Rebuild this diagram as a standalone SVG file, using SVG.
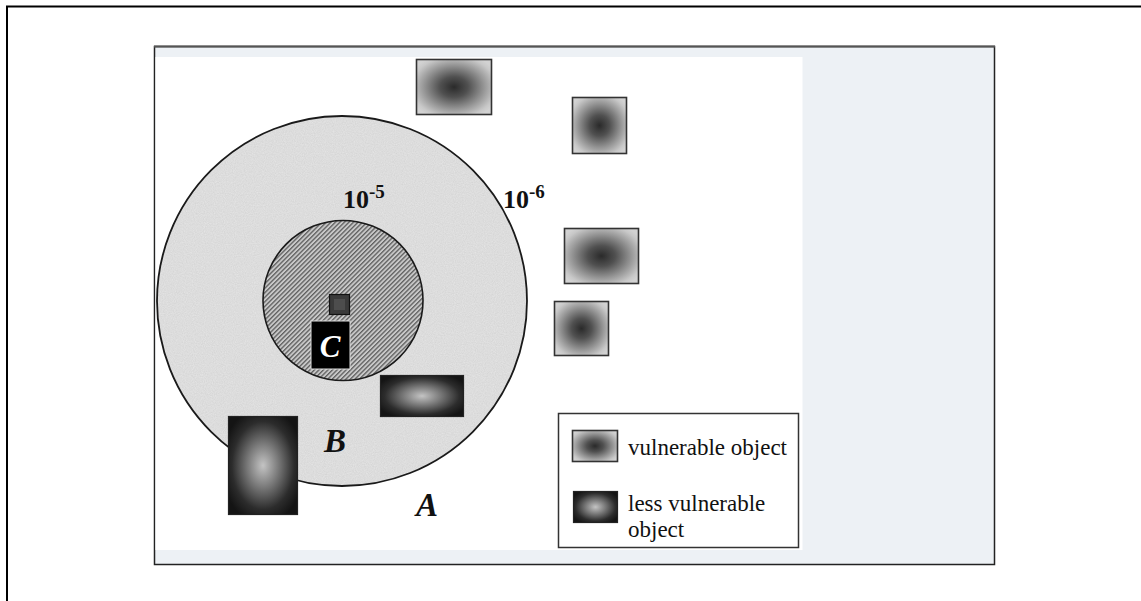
<svg xmlns="http://www.w3.org/2000/svg" width="1141" height="601" viewBox="0 0 1141 601">
  <style>
    .num { font-family: "Liberation Serif", "Times New Roman", serif; font-weight: bold; font-size: 26px; fill: #111; }
    .sup { font-size: 19px; }
    .zone { font-family: "Liberation Serif", "Times New Roman", serif; font-weight: bold; font-style: italic; font-size: 33px; fill: #111; }
    .leg { font-family: "Liberation Serif", "Times New Roman", serif; font-size: 23px; fill: #111; }
    .vuln { fill: url(#gVuln); stroke: #333; stroke-width: 1.6; }
    .less { fill: url(#gLess); stroke: #222; stroke-width: 1.2; }
  </style>
  <defs>
    <radialGradient id="gVuln" cx="0.5" cy="0.5" r="0.62">
      <stop offset="0" stop-color="#2a2a2a"/>
      <stop offset="0.3" stop-color="#505050"/>
      <stop offset="0.65" stop-color="#979797"/>
      <stop offset="0.9" stop-color="#c8c8c8"/>
      <stop offset="1" stop-color="#d2d2d2"/>
    </radialGradient>
    <radialGradient id="gLess" cx="0.5" cy="0.5" r="0.6">
      <stop offset="0" stop-color="#c4c4c4"/>
      <stop offset="0.35" stop-color="#7e7e7e"/>
      <stop offset="0.75" stop-color="#2c2c2c"/>
      <stop offset="1" stop-color="#141414"/>
    </radialGradient>
    <pattern id="hatch" width="3.2" height="3.2" patternUnits="userSpaceOnUse" patternTransform="rotate(45)">
      <rect width="3.2" height="3.2" fill="#c8c8c8"/>
      <rect width="1.3" height="3.2" fill="#5e5e5e"/>
    </pattern>
    <filter id="grain" x="0" y="0" width="1" height="1">
      <feTurbulence type="fractalNoise" baseFrequency="0.9" numOctaves="2" seed="3" result="n"/>
      <feColorMatrix in="n" type="matrix" values="0 0 0 0 0  0 0 0 0 0  0 0 0 0 0  0 0 0 0.18 0" result="a"/>
      <feComposite in="a" in2="SourceGraphic" operator="in" result="m"/>
      <feMerge><feMergeNode in="SourceGraphic"/><feMergeNode in="m"/></feMerge>
    </filter>
  </defs>

  <rect width="1141" height="601" fill="#ffffff"/>

  <!-- outer frame -->
  <g id="frame" fill="none" stroke="#000" stroke-width="2">
    <path d="M7 601 V6.5 H1141"/>
  </g>

  <!-- figure panel -->
  <g id="panel">
    <rect x="154.5" y="46.5" width="840" height="518" fill="#edf1f5" stroke="#222" stroke-width="1.5"/>
    <line x1="154" y1="46.5" x2="995" y2="46.5" stroke="#555" stroke-width="2"/>
    <rect x="155.5" y="57" width="647" height="493" fill="#ffffff"/>
  </g>

  <g id="connectors"/>

  <!-- outer zone 10^-6 -->
  <g id="zone-outer">
    <circle cx="342" cy="301" r="185" fill="#e6e6e6" filter="url(#grain)"/>
    <circle cx="342" cy="301" r="185" fill="none" stroke="#1a1a1a" stroke-width="1.8"/>
  </g>

  <!-- inner zone 10^-5 -->
  <g id="zone-inner">
    <circle cx="343" cy="300.5" r="80" fill="url(#hatch)" stroke="#1a1a1a" stroke-width="1.6"/>
  </g>

  <!-- objects inside -->
  <g id="obj-small">
    <rect x="329.5" y="294.5" width="20" height="20" fill="#3a3a3a" stroke="#111" stroke-width="1.2"/>
    <rect x="334" y="299" width="11" height="11" fill="#555" opacity="0.7"/>
  </g>
  <g id="obj-C">
    <rect x="311" y="321" width="39" height="48" fill="#000" stroke="#ddd" stroke-width="1"/>
    <text x="330" y="357" class="zone" style="fill:#fff;font-size:31px" text-anchor="middle">C</text>
  </g>
  <g id="obj-less-1">
    <rect x="380.5" y="375.5" width="83" height="41" class="less"/>
  </g>
  <g id="obj-less-2">
    <rect x="228.5" y="416.5" width="69" height="98" class="less"/>
  </g>

  <!-- vulnerable objects outside -->
  <g id="obj-vuln-1"><rect x="416.5" y="59.5" width="75" height="55" class="vuln"/></g>
  <g id="obj-vuln-2"><rect x="572.5" y="97.5" width="54" height="56" class="vuln"/></g>
  <g id="obj-vuln-3"><rect x="564.5" y="228.5" width="74" height="55" class="vuln"/></g>
  <g id="obj-vuln-4"><rect x="554.5" y="301.5" width="54" height="54" class="vuln"/></g>

  <!-- labels -->
  <g id="labels">
    <text x="343" y="208" class="num">10<tspan class="sup" dy="-10">-5</tspan></text>
    <text x="503" y="208" class="num">10<tspan class="sup" dy="-10">-6</tspan></text>
    <text x="324" y="452" class="zone">B</text>
    <text x="416" y="516" class="zone">A</text>
  </g>

  <!-- legend -->
  <g id="legend">
    <rect x="558.5" y="413.5" width="240" height="134" fill="#fff" stroke="#333" stroke-width="1.5"/>
    <rect x="572.5" y="430.5" width="45" height="31" class="vuln"/>
    <text x="628" y="455" class="leg">vulnerable object</text>
    <rect x="573.5" y="491.5" width="44" height="31" class="less"/>
    <text x="628" y="511" class="leg">less vulnerable</text>
    <text x="628" y="537" class="leg">object</text>
  </g>
</svg>
